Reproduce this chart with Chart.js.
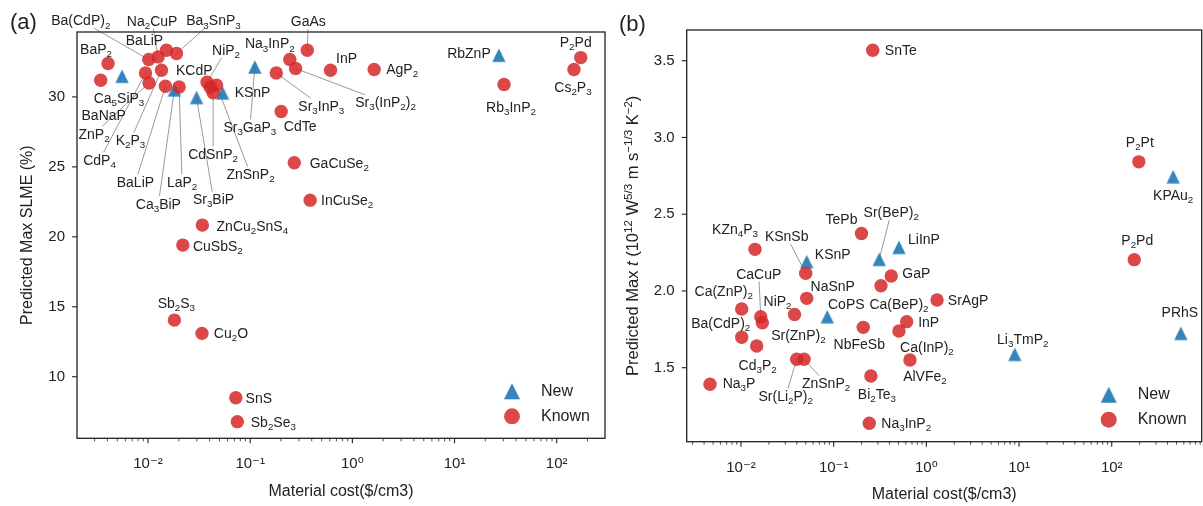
<!DOCTYPE html>
<html>
<head>
<meta charset="utf-8">
<script src="https://cdn.jsdelivr.net/npm/chart.js@4.4.1/dist/chart.umd.min.js"></script>
<style>
  html, body { margin: 0; padding: 0; background: #fff; }
  #wrap { position: relative; width: 1203px; height: 506px; overflow: hidden; }
  canvas { position: absolute; top: 0; }
  #chartA { left: 0; }
  #chartB { left: 610px; }
</style>
</head>
<body>
<div id="wrap">
  <canvas id="chartA" width="610" height="506" style="width:610px;height:506px"></canvas>
  <canvas id="chartB" width="593" height="506" style="width:593px;height:506px"></canvas>
</div>
<script>
// ---- panel (a): predicted max SLME vs material cost ----
const aNewNames = ['Ca_5SiP_3', 'Ca_3BiP', 'Sr_3BiP', 'KSnP', 'Sr_3GaP_3', 'RbZnP'];
const aNewCost = [0.00556, 0.0181, 0.0298, 0.0536, 0.111, 27.2];
const aNewSlme = [31.48, 30.51, 29.96, 30.29, 32.14, 32.98];

const aKnownNames = ['BaP_2', 'BaNaP', 'Ba(CdP)_2', 'Na_2CuP', 'BaLiP', 'Ba_3SnP_3', 'CdP_4', 'K_2P_3',
  'ZnP_2', 'BaLiP', 'LaP_2', 'NiP_2', 'KCdP', 'ZnSnP_2', 'CdSnP_2', 'Sr_3InP_3', 'Na_3InP_2',
  'Sr_3(InP_2)_2', 'GaAs', 'InP', 'AgP_2', 'CdTe', 'GaCuSe_2', 'InCuSe_2', 'ZnCu_2SnS_4', 'CuSbS_2',
  'Sb_2S_3', 'Cu_2O', 'SnS', 'Sb_2Se_3', 'Rb_3InP_2', 'P_2Pd', 'Cs_2P_3'];
const aKnownCost = [0.00406, 0.00344, 0.01016, 0.01254, 0.01514, 0.01898, 0.00944, 0.01353,
  0.01023, 0.01479, 0.02014, 0.0378, 0.0406, 0.0468, 0.0433, 0.180, 0.244,
  0.278, 0.362, 0.611, 1.635, 0.201, 0.270, 0.386, 0.034, 0.0219,
  0.0181, 0.0337, 0.0723, 0.0748, 30.5, 171.8, 147.5];
const aKnownSlme = [32.39, 31.19, 32.67, 32.86, 33.34, 33.10, 31.71, 31.91,
  31.00, 30.76, 30.71, 31.05, 30.69, 30.84, 30.29, 31.71, 32.67,
  32.03, 33.34, 31.91, 31.96, 28.96, 25.29, 22.62, 20.84, 19.41,
  14.05, 13.10, 8.50, 6.79, 30.89, 32.81, 31.96];
const aYTicks = [10, 15, 20, 25, 30];

// ---- panel (b): predicted max t vs material cost ----
const bNewNames = ['KPAu_2', 'Sr(BeP)_2', 'LiInP', 'KSnP', 'CoPS', 'Li_3TmP_2', 'PRhS'];
const bNewCost = [460, 0.310, 0.506, 0.0512, 0.0853, 8.99, 557];
const bNewT = [2.744, 2.206, 2.284, 2.191, 1.832, 1.587, 1.724];

const bKnownNames = ['SnTe', 'P_2Pt', 'TePb', 'KZn_4P_3', 'KSnSb', 'GaP', 'Ca(BeP)_2', 'NaSnP', 'SrAgP',
  'Ca(ZnP)_2', 'CaCuP', 'Sr(ZnP)_2', 'NiP_2', 'InP', 'NbFeSb', 'Ca(InP)_2', 'Ba(CdP)_2', 'Cd_3P_2',
  'AlVFe_2', 'Sr(Li_2P)_2', 'ZnSnP_2', 'Bi_2Te_3', 'Na_3P', 'Na_3InP_2', 'P_2Pd'];
const bKnownCost = [0.264, 196, 0.1995, 0.01416, 0.0499, 0.418, 0.324, 0.0512, 1.304,
  0.01018, 0.01633, 0.0170, 0.0378, 0.613, 0.2085, 0.506, 0.01018, 0.01476,
  0.665, 0.0399, 0.0479, 0.252, 0.00463, 0.242, 175];
const bKnownT = [3.568, 2.841, 2.374, 2.271, 2.115, 2.097, 2.034, 1.952, 1.941,
  1.882, 1.832, 1.793, 1.847, 1.800, 1.763, 1.739, 1.698, 1.641,
  1.550, 1.555, 1.555, 1.446, 1.392, 1.138, 2.204];
const bYTicks = [1.5, 2.0, 2.5, 3.0, 3.5];

const xTickExps = [-2, -1, 0, 1, 2];
const xTickText = ['10⁻²', '10⁻¹', '10⁰', '10¹', '10²'];

// label placement: [dx, dy, draw leader line] in pixels from the marker
const aNewLabelPos = [[-3, 22, 0], [-16, 114, 1], [17, 102, 1], [30, -1, 0], [-5, 60, 1], [-30, -2, 0]];
const aKnownLabelPos = [[-12, -14, 0], [3, 35, 0], [-68, -39, 1], [-6, -36, 1], [-22, -10, 0], [37, -33, 1],
  [-46, 87, 1], [-31, 70, 1], [-55, 51, 1], [-30, 96, 1], [3, 95, 1], [19, -32, 1], [-16, -17, 0],
  [34, 89, 1], [0, 61, 1], [45, 33, 1], [-20, -16, 0], [90, 34, 1], [1, -29, 1], [16, -12, 1],
  [28, 0, 0], [19, 15, 0], [45, 0, 0], [37, 0, 0], [50, 1, 0], [35, 1, 0], [2, -17, 0], [29, 0, 0],
  [23, 0, 0], [36, 0, 0], [7, 23, 0], [-5, -16, 0], [-1, 18, 0]];
const bNewLabelPos = [[0, 18, 0], [12, -47, 1], [25, -8, 0], [26, -8, 0], [19, -13, 0], [8, -15, 0], [-1, -21, 0]];
const bKnownLabelPos = [[28, 0, 0], [1, -20, 0], [-20, -14, 0], [-20, -20, 0], [-19, -37, 1], [25, -3, 0],
  [18, 18, 0], [26, -12, 0], [31, 0, 0], [-18, -18, 0], [-2, -43, 1], [36, 12, 0], [-17, -13, 0],
  [22, 0, 0], [-4, 17, 0], [28, 16, 0], [-21, -14, 0], [1, 19, 0], [15, 16, 0], [-11, 37, 1],
  [22, 24, 1], [6, 18, 0], [29, -1, 0], [37, 0, 0], [3, -20, 0]];

const FONT = '"Liberation Sans", Arial, "DejaVu Sans", sans-serif';
const INK = '#222';
const RED = 'rgba(214, 39, 40, 0.85)';
const BLUE = 'rgba(31, 119, 180, 0.9)';

function triangleMarker(size, color) {
  const c = document.createElement('canvas');
  c.width = c.height = Math.ceil(size) + 2;
  const g = c.getContext('2d');
  const m = c.width / 2, h = size / 2;
  g.fillStyle = color;
  g.beginPath();
  g.moveTo(m, m - h);
  g.lineTo(m + h, m + h);
  g.lineTo(m - h, m + h);
  g.closePath();
  g.fill();
  return c;
}
const TRI = triangleMarker(13.4, BLUE);
const TRI_LEGEND = triangleMarker(16, BLUE);

// tiny markup: _x or _{..} subscript, ^{..} superscript, ~{..} italic
function parseRich(s) {
  const out = [];
  let buf = '';
  const push = (t, mode, it) => { if (t) out.push({ t, mode, it }); };
  for (let i = 0; i < s.length; i++) {
    const c = s[i];
    if (c === '_' || c === '^' || c === '~') {
      push(buf, 'n', false);
      buf = '';
      let t;
      if (s[i + 1] === '{') {
        const j = s.indexOf('}', i);
        t = s.slice(i + 2, j);
        i = j;
      } else {
        t = s[i + 1];
        i++;
      }
      push(t, c === '_' ? 'sub' : c === '^' ? 'sup' : 'n', c === '~');
    } else {
      buf += c;
    }
  }
  push(buf, 'n', false);
  return out;
}

function richFont(seg, size) {
  const s = seg.mode === 'n' ? size : size * 0.7;
  return (seg.it ? 'italic ' : '') + s + 'px ' + FONT;
}

function measureRich(ctx, s, size) {
  let w = 0;
  ctx.save();
  for (const g of parseRich(s)) {
    ctx.font = richFont(g, size);
    w += ctx.measureText(g.t).width;
  }
  ctx.restore();
  return w;
}

function drawRich(ctx, s, x, y, size, align) {
  const segs = parseRich(s);
  ctx.save();
  let w = 0;
  for (const g of segs) {
    ctx.font = richFont(g, size);
    g.w = ctx.measureText(g.t).width;
    w += g.w;
  }
  let cx = align === 'left' ? x : align === 'right' ? x - w : x - w / 2;
  const base = y + size * 0.35;
  ctx.fillStyle = INK;
  ctx.textBaseline = 'alphabetic';
  ctx.textAlign = 'left';
  for (const g of segs) {
    ctx.font = richFont(g, size);
    const dy = g.mode === 'sub' ? size * 0.22 : g.mode === 'sup' ? -size * 0.4 : 0;
    ctx.fillText(g.t, cx, base + dy);
    cx += g.w;
  }
  ctx.restore();
}

function isDecade(v) {
  const l = Math.log10(v);
  return Math.abs(l - Math.round(l)) < 1e-6;
}

function logTicks(min, max) {
  const t = [];
  for (let e = Math.floor(Math.log10(min)); e <= Math.ceil(Math.log10(max)); e++) {
    for (let m = 1; m < 10; m++) {
      const v = m * Math.pow(10, e);
      if (v >= min && v <= max) t.push({ value: v, major: m === 1 });
    }
  }
  return t;
}

function xTickLabel(v) {
  if (!isDecade(v)) return '';
  const i = xTickExps.indexOf(Math.round(Math.log10(v)));
  return i >= 0 ? xTickText[i] : '';
}

const panels = {
  chartA: {
    letter: '(a)', letterX: 10, letterY: 23, labelSize: 14,
    sets: [{ names: aNewNames, pos: aNewLabelPos }, { names: aKnownNames, pos: aKnownLabelPos }]
  },
  chartB: {
    letter: '(b)', letterX: 9, letterY: 25, labelSize: 14,
    yTitle: 'Predicted Max ~{t} (10^{12} W^{5/3} m s^{−1/3} K^{−2})',
    sets: [{ names: bNewNames, pos: bNewLabelPos }, { names: bKnownNames, pos: bKnownLabelPos }]
  }
};

function labelItems(chart, info) {
  const items = [];
  info.sets.forEach((set, ds) => {
    const meta = chart.getDatasetMeta(ds);
    set.names.forEach((name, i) => {
      const el = meta.data[i];
      const [dx, dy, line] = set.pos[i];
      items.push({ text: name, px: el.x, py: el.y, lx: el.x + dx, ly: el.y + dy, line });
    });
  });
  return items;
}

const decor = {
  id: 'decor',
  beforeDatasetsDraw(chart) {
    const info = panels[chart.canvas.id];
    const ctx = chart.ctx;
    ctx.save();
    ctx.strokeStyle = '#9a9a9a';
    ctx.lineWidth = 1;
    for (const L of labelItems(chart, info)) {
      if (!L.line) continue;
      const hw = measureRich(ctx, L.text, info.labelSize) / 2 + 2;
      const hh = info.labelSize * 0.55;
      const dx = L.lx - L.px, dy = L.ly - L.py;
      const t = Math.min(dx ? hw / Math.abs(dx) : Infinity, dy ? hh / Math.abs(dy) : Infinity);
      if (t >= 1) continue;
      ctx.beginPath();
      ctx.moveTo(L.lx - dx * t, L.ly - dy * t);
      ctx.lineTo(L.px, L.py);
      ctx.stroke();
    }
    ctx.restore();
  },
  afterDraw(chart) {
    const info = panels[chart.canvas.id];
    const ctx = chart.ctx;
    const { left, right, top, bottom } = chart.chartArea;
    const xs = chart.scales.x, ys = chart.scales.y;

    for (const L of labelItems(chart, info)) {
      drawRich(ctx, L.text, L.lx, L.ly, info.labelSize, 'center');
    }

    ctx.save();
    ctx.strokeStyle = INK;
    ctx.lineWidth = 1.3;
    ctx.strokeRect(left, top, right - left, bottom - top);
    xs.ticks.forEach(t => {
      const p = xs.getPixelForValue(t.value);
      const major = isDecade(t.value);
      ctx.lineWidth = major ? 1.1 : 0.8;
      ctx.beginPath();
      ctx.moveTo(p, bottom);
      ctx.lineTo(p, bottom + (major ? 5 : 3));
      ctx.stroke();
    });
    ctx.lineWidth = 1.1;
    ys.ticks.forEach(t => {
      const p = ys.getPixelForValue(t.value);
      ctx.beginPath();
      ctx.moveTo(left - 5, p);
      ctx.lineTo(left, p);
      ctx.stroke();
    });

    // legend, lower right inside the axes
    const mx = right - 93;
    const ds = chart.data.datasets;
    ctx.drawImage(TRI_LEGEND, mx - TRI_LEGEND.width / 2, bottom - 47 - TRI_LEGEND.height / 2);
    ctx.fillStyle = RED;
    ctx.beginPath();
    ctx.arc(mx, bottom - 22, 8, 0, Math.PI * 2);
    ctx.fill();
    ctx.fillStyle = INK;
    ctx.font = '16px ' + FONT;
    ctx.textBaseline = 'middle';
    ctx.textAlign = 'left';
    ctx.fillText(ds[0].label, mx + 29, bottom - 47);
    ctx.fillText(ds[1].label, mx + 29, bottom - 22);

    ctx.font = '22px ' + FONT;
    ctx.fillText(info.letter, info.letterX, info.letterY);
    ctx.restore();

    if (info.yTitle) {
      ctx.save();
      ctx.translate(left - 54, (top + bottom) / 2);
      ctx.rotate(-Math.PI / 2);
      drawRich(ctx, info.yTitle, 0, 0, 16.5, 'center');
      ctx.restore();
    }
  }
};

function makeChart(id, cfg) {
  // tick marks are drawn by the decor plugin; the grid only reserves their room
  const xGrid = { drawOnChartArea: false, tickLength: 17, tickColor: 'rgba(0,0,0,0)' };
  const yGrid = { drawOnChartArea: false, tickLength: 5, tickColor: 'rgba(0,0,0,0)' };
  return new Chart(document.getElementById(id), {
    type: 'scatter',
    data: {
      datasets: [
        {
          label: 'New',
          data: cfg.newX.map((x, i) => ({ x, y: cfg.newY[i] })),
          pointStyle: TRI, pointRadius: 7, backgroundColor: BLUE, borderWidth: 0, order: 1, clip: false
        },
        {
          label: 'Known',
          data: cfg.knownX.map((x, i) => ({ x, y: cfg.knownY[i] })),
          pointStyle: 'circle', pointRadius: 6.7, backgroundColor: RED, borderWidth: 0, order: 0, clip: false
        }
      ]
    },
    options: {
      responsive: false,
      animation: false,
      devicePixelRatio: 1,
      events: [],
      layout: { padding: cfg.pad, autoPadding: false },
      plugins: { legend: { display: false }, tooltip: { enabled: false } },
      scales: {
        x: {
          type: 'logarithmic', min: cfg.xRange[0], max: cfg.xRange[1],
          afterBuildTicks: s => { s.ticks = logTicks(s.min, s.max); },
          afterFit: s => { s.height = cfg.xH; },
          grid: xGrid,
          border: { display: false },
          ticks: {
            autoSkip: false, maxRotation: 0, padding: 0, color: INK,
            font: { family: FONT, size: 15 },
            callback: v => xTickLabel(v)
          },
          title: {
            display: true, text: 'Material cost($/cm3)', color: INK,
            font: { family: FONT, size: 16 }, padding: { top: 0, bottom: cfg.xTitlePad }
          }
        },
        y: {
          type: 'linear', min: cfg.yRange[0], max: cfg.yRange[1],
          afterBuildTicks: s => { s.ticks = cfg.yTicks.map(v => ({ value: v })); },
          afterFit: s => { s.width = cfg.yW; },
          grid: yGrid,
          border: { display: false },
          ticks: {
            padding: 7, color: INK, font: { family: FONT, size: 15 },
            callback: v => cfg.yFmt(v)
          },
          title: cfg.yTitle
        }
      }
    },
    plugins: [decor]
  });
}

makeChart('chartA', {
  newX: aNewCost, newY: aNewSlme, knownX: aKnownCost, knownY: aKnownSlme,
  xRange: [0.002016, 297], yRange: [5.6, 34.64], yTicks: aYTicks,
  yFmt: v => String(v),
  pad: { left: 0, right: 5, top: 32, bottom: 0 }, yW: 77, xH: 67.7, xTitlePad: 4.7,
  yTitle: {
    display: true, text: 'Predicted Max SLME (%)', color: INK,
    font: { family: FONT, size: 16 }, padding: { top: 18, bottom: 0 }
  }
});

makeChart('chartB', {
  newX: bNewCost, newY: bNewT, knownX: bKnownCost, knownY: bKnownT,
  xRange: [0.002595, 935], yRange: [1.018, 3.70], yTicks: bYTicks,
  yFmt: v => v.toFixed(1),
  pad: { left: 0, right: 1.3, top: 30, bottom: 0 }, yW: 76.7, xH: 64.3, xTitlePad: 1.7,
  yTitle: { display: false }
});
</script>
</body>
</html>
